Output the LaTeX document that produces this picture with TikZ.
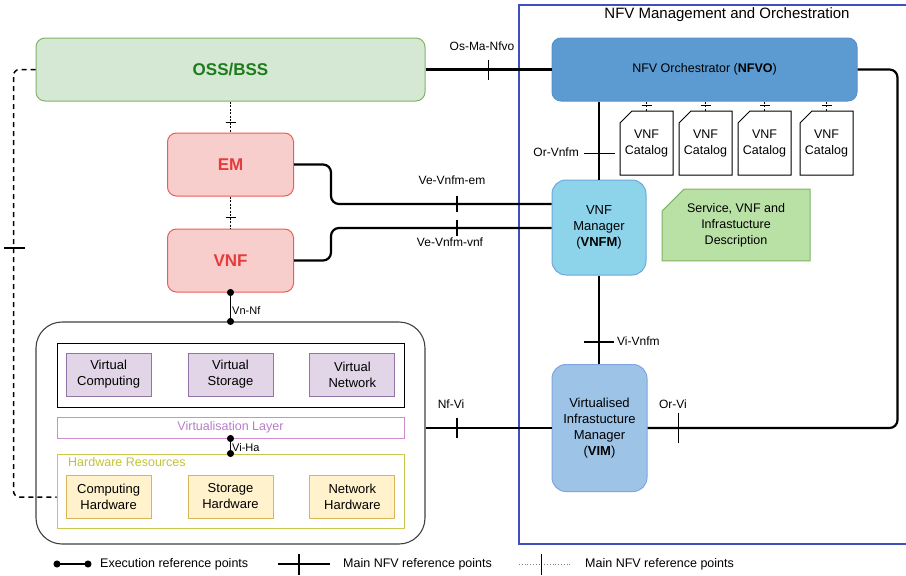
\documentclass[tikz,border=0pt]{standalone}
\usepackage{fontspec}
\setmainfont{Liberation Sans}
\usepackage{xcolor}
\usetikzlibrary{arrows.meta,positioning,shapes.misc}

\definecolor{ossfill}{HTML}{D5E8D4}
\definecolor{ossline}{HTML}{82B366}
\definecolor{osstext}{HTML}{1E7B1E}
\definecolor{vnffill}{HTML}{F8CECC}
\definecolor{vnfline}{HTML}{EE5B55}
\definecolor{vnftext}{HTML}{E53B3B}
\definecolor{nfvofill}{HTML}{5B9BD1}
\definecolor{nfvoline}{HTML}{5A8FC8}
\definecolor{vnfmfill}{HTML}{8DD3EA}
\definecolor{vnfmline}{HTML}{6FA8DC}
\definecolor{vimfill}{HTML}{9DC3E6}
\definecolor{vimline}{HTML}{7EA6E0}
\definecolor{notefill}{HTML}{B9E0A5}
\definecolor{manoline}{HTML}{3F4FBF}
\definecolor{virtfill}{HTML}{E1D5E7}
\definecolor{virtline}{HTML}{9673A6}
\definecolor{layerline}{HTML}{D08CD0}
\definecolor{layertext}{HTML}{B77CC9}
\definecolor{hwline}{HTML}{C9C94E}
\definecolor{hwtext}{HTML}{C2C23A}
\definecolor{hwfill}{HTML}{FFF2CC}
\definecolor{hwboxline}{HTML}{D6B656}

\begin{document}
\begin{tikzpicture}[
    x=1pt, y=1pt,
    font=\fontsize{12.5}{16}\selectfont,
    block/.style={draw, rounded corners=9pt, line width=1pt, align=center, inner sep=0pt},
    elem/.style={block, fill=vnffill, draw=vnfline, text=vnftext, minimum width=126pt, minimum height=63pt, font=\fontsize{17}{20}\selectfont\bfseries},
    res/.style={draw, line width=0.9pt, align=center, minimum width=85pt, minimum height=43pt, inner sep=0pt, font=\fontsize{13}{16}\selectfont},
    layer/.style={draw, line width=1pt, minimum width=347pt, inner sep=0pt},
    catalog/.style={draw, fill=white, line width=1pt, chamfered rectangle, chamfered rectangle corners=north west, chamfered rectangle xsep=4pt, chamfered rectangle ysep=8pt, minimum width=53pt, minimum height=64pt, inner sep=0pt, align=center},
    mainref/.style={line width=2.2pt},
    tick/.style={line width=1.5pt},
    execref/.style={line width=1.1pt, {Circle[length=7pt]}-{Circle[length=7pt]}, shorten <=-3.5pt, shorten >=-3.5pt},
    minorref/.style={line width=0.8pt, dash pattern=on 2pt off 1.5pt},
    dashref/.style={line width=1.5pt, dash pattern=on 5pt off 4pt, rounded corners=6pt},
    reflabel/.style={inner sep=1pt, font=\fontsize{12}{14}\selectfont},
    smalllabel/.style={inner sep=1pt, font=\fontsize{11}{13}\selectfont}
  ]
    \useasboundingbox (0,0) rectangle (906,-576);

    \node[draw=manoline, line width=2pt, minimum width=393pt, minimum height=539pt] (mano) at (715.5,-274.5) {};
    \node[font=\fontsize{15}{18}\selectfont] (manotitle) at (727,-15) {NFV Management and Orchestration};

    \node[block, fill=ossfill, draw=ossline, text=osstext, minimum width=389pt, minimum height=63pt, font=\fontsize{17}{20}\selectfont\bfseries] (oss) at (230.5,-69.5) {OSS/BSS};
    \node[elem, below=31pt of oss] (em) {EM};
    \node[elem, below=32pt of em] (vnf) {VNF};

    \node[block, fill=nfvofill, draw=nfvoline, minimum width=305pt, minimum height=63pt] (nfvo) at (704.5,-69.5) {NFV Orchestrator (\textbf{NFVO})};
    \node[block, rounded corners=14pt, fill=vnfmfill, draw=vnfmline, minimum width=94pt, minimum height=95pt, font=\fontsize{13}{16}\selectfont] (vnfm) at (599,-227.5) {VNF\\Manager\\(\textbf{VNFM})};
    \node[block, rounded corners=14pt, fill=vimfill, draw=vimline, minimum width=95pt, minimum height=127pt, font=\fontsize{13}{16}\selectfont] (vim) at (599.5,-428) {Virtualised\\Infrastucture\\Manager\\(\textbf{VIM})};
    \node[catalog, fill=notefill, draw=ossline, minimum width=148pt, minimum height=68pt, chamfered rectangle xsep=8pt, chamfered rectangle ysep=14pt] (note) at (736,-225) {Service, VNF and\\Infrastucture\\Description};

    \node[catalog] (cat1) at (646.5,-143) {VNF\\Catalog};
    \node[catalog, right=5pt of cat1] (cat2) {VNF\\Catalog};
    \node[catalog, right=5pt of cat2] (cat3) {VNF\\Catalog};
    \node[catalog, right=8pt of cat3] (cat4) {VNF\\Catalog};

    \node[draw=black!75, line width=1.1pt, rounded corners=26pt, minimum width=389pt, minimum height=222pt] (nfvi) at (230.5,-433) {};
    \node[layer, draw=black, minimum height=64pt] (virt) at (230.5,-375) {};
    \node[res, fill=virtfill, draw=virtline] (vstor) at (230.5,-374.5) {Virtual\\Storage};
    \node[res, fill=virtfill, draw=virtline, left=36pt of vstor] (vcomp) {Virtual\\Computing};
    \node[res, fill=virtfill, draw=virtline, right=36pt of vstor] (vnet) {Virtual\\Network};
    \node[layer, draw=layerline, text=layertext, minimum height=21pt] (vlayer) at (230.5,-427.5) {Virtualisation Layer};
    \node[layer, draw=hwline, minimum height=74pt] (hwres) at (230.5,-491) {};
    \node[anchor=west, inner sep=0pt, text=hwtext] (hwtitle) at (68,-462.5) {Hardware Resources};
    \node[res, fill=hwfill, draw=hwboxline] (hstor) at (230.5,-496.5) {Storage\\Hardware};
    \node[res, fill=hwfill, draw=hwboxline, left=36pt of hstor] (hcomp) {Computing\\Hardware};
    \node[res, fill=hwfill, draw=hwboxline, right=36pt of hstor] (hnet) {Network\\Hardware};

    \draw[mainref] (oss.east) -- coordinate (osma) (nfvo.west);
    \draw[tick] ([yshift=10pt]osma) -- ([yshift=-10pt]osma);
    \node[reflabel] (osmalbl) at (482,-46) {Os-Ma-Nfvo};

    \draw[mainref, rounded corners=8pt] (nfvo.east) -- ++(40,0) |- (vim.east);
    \coordinate (orvi) at ([xshift=31pt]vim.east);
    \draw[tick] ([yshift=15pt]orvi) -- ([yshift=-15pt]orvi);
    \node[reflabel] (orvilbl) at (673,-404) {Or-Vi};

    \draw[mainref] (vnfm.north |- nfvo.south) -- (vnfm.north);
    \coordinate (orvnfm) at ([yshift=26pt]vnfm.north);
    \draw[tick] ([xshift=-15.5pt]orvnfm) -- ([xshift=15.5pt]orvnfm);
    \node[reflabel, anchor=east] (orvnfmlbl) at (580,-152) {Or-Vnfm};

    \draw[mainref] (vnfm.south) -- (vnfm.south |- vim.north);
    \coordinate (vivnfm) at ([yshift=22pt]vnfm.south |- vim.north);
    \draw[tick] ([xshift=-15pt]vivnfm) -- ([xshift=15pt]vivnfm);
    \node[reflabel, anchor=west] (vivnfmlbl) at (616,-341) {Vi-Vnfm};

    \draw[mainref, rounded corners=8pt] (em.east) -- ++(37,0) |- ([yshift=23.5pt]vnfm.west);
    \coordinate (veem) at (457,-204);
    \draw[tick] ([yshift=8pt]veem) -- ([yshift=-8pt]veem);
    \node[reflabel] (veemlbl) at (452,-180) {Ve-Vnfm-em};

    \draw[mainref, rounded corners=8pt] (vnf.east) -- ++(37,0) |- ([yshift=-0.5pt]vnfm.west);
    \coordinate (vevnf) at (457,-228);
    \draw[tick] ([yshift=8pt]vevnf) -- ([yshift=-8pt]vevnf);
    \node[reflabel] (vevnflbl) at (450,-242) {Ve-Vnfm-vnf};

    \draw[mainref] (nfvi.east |- vim.west) -- (vim.west);
    \coordinate (nfvilink) at (457,-428);
    \draw[tick] ([yshift=10pt]nfvilink) -- ([yshift=-10pt]nfvilink);
    \node[reflabel] (nfvilbl) at (451,-404) {Nf-Vi};

    \draw[execref] (vnf.south) -- (vnf.south |- nfvi.north);
    \node[smalllabel, anchor=west] (vnnflbl) at (231,-311) {Vn-Nf};
    \draw[execref] (vlayer.south) -- (hwres.north);
    \node[smalllabel, anchor=west] (vihalbl) at (231,-448) {Vi-Ha};

    \draw[minorref] (oss.south) -- (em.north);
    \draw[line width=1pt] ([xshift=-5pt,yshift=10pt]em.north) -- ([xshift=5pt,yshift=10pt]em.north);
    \draw[minorref] (em.south) -- (vnf.north);
    \draw[line width=1pt] ([xshift=-5pt,yshift=11pt]vnf.north) -- ([xshift=5pt,yshift=11pt]vnf.north);
    \foreach \c in {cat1,cat2,cat3,cat4} {
      \draw[minorref] (\c.north |- nfvo.south) -- (\c.north);
      \draw[line width=1pt] ([xshift=-5pt,yshift=5pt]\c.north) -- ([xshift=5pt,yshift=5pt]\c.north);
    }

    \draw[dashref] (oss.west) -- ++(-22,0) |- ([yshift=-6pt]hwres.west);
    \draw[tick] (4,-248) -- (25,-248);

    \coordinate (exa) at (57,-564);
    \coordinate (exb) at (88,-564);
    \draw[execref] (exa) -- (exb);
    \node[anchor=west, inner sep=0pt] (exlbl) at (100,-564) {Execution reference points};
    \coordinate (mra) at (278,-564);
    \coordinate (mrb) at (330,-564);
    \draw[line width=1.2pt] (mra) -- (mrb);
    \draw[line width=1.2pt] (299,-554) -- (299,-575);
    \node[anchor=west, inner sep=0pt] (mrlbl) at (343,-564) {Main NFV reference points};
    \coordinate (mna) at (519,-564);
    \coordinate (mnb) at (572,-564);
    \draw[gray, line width=0.8pt, dotted] (mna) -- (mnb);
    \draw[line width=1pt] (541,-554) -- (541,-575);
    \node[anchor=west, inner sep=0pt] (mnlbl) at (585,-564) {Main NFV reference points};
  \end{tikzpicture}
\end{document}
